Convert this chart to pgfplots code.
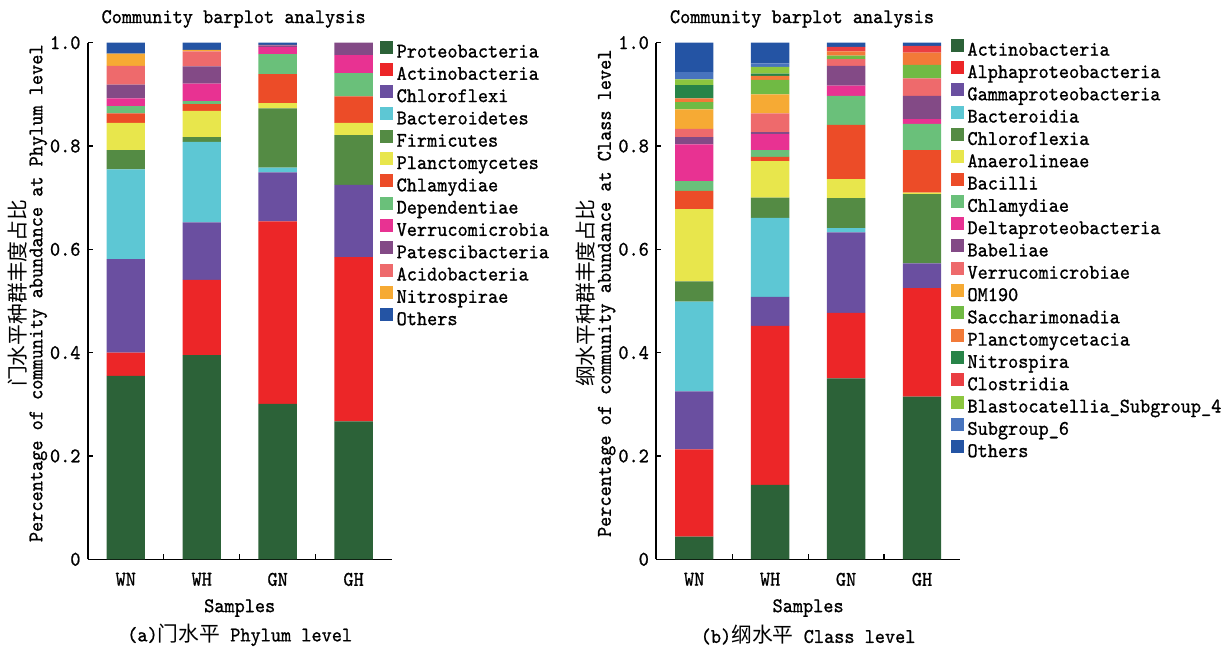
\documentclass[border=0pt]{standalone}
\usepackage{fontspec}
\usepackage{pgfplots}
\pgfplotsset{compat=1.18}
\setmonofont{lmmono10-regular.otf}[FakeStretch=0.93, FakeBold=0.9]
\newfontfamily\cjk{Noto Sans CJK SC}
\definecolor{cDG}{HTML}{2C6238}
\definecolor{cRed}{HTML}{EC2628}
\definecolor{cPur}{HTML}{6A4FA0}
\definecolor{cCyan}{HTML}{5DC7D4}
\definecolor{cGrn}{HTML}{548B44}
\definecolor{cYel}{HTML}{E8E64C}
\definecolor{cOrR}{HTML}{EC4C28}
\definecolor{cLG}{HTML}{6AC07A}
\definecolor{cPink}{HTML}{E83292}
\definecolor{cMauve}{HTML}{834A86}
\definecolor{cSalm}{HTML}{EE6A6C}
\definecolor{cOra}{HTML}{F6AA34}
\definecolor{cBlue}{HTML}{2454A4}
\definecolor{cSac}{HTML}{70BA44}
\definecolor{cPlc}{HTML}{F27A38}
\definecolor{cNit}{HTML}{288448}
\definecolor{cClo}{HTML}{EA3E42}
\definecolor{cBla}{HTML}{8CC63F}
\definecolor{cSub}{HTML}{4874BE}
\pgfplotsset{
 common/.style={
  scale only axis, width=151.9pt, height=258.3pt,
  ybar stacked, bar width=0.505, bar shift=0pt,
  xmin=-0.5, xmax=3.5, ymin=0, ymax=1,
  axis x line=bottom, axis y line=left,
  axis line style={-, line width=0.8pt, black},
  ytick={0,0.2,0.4,0.6,0.8,1.0}, yticklabels={0,0.2,0.4,0.6,0.8,1.0},
  xtick={0.5,1.5,2.5}, xticklabels={},
  extra x ticks={0,1,2,3}, extra x tick labels={WN,WH,GN,GH},
  extra x tick style={major tick length=0pt, xticklabel style={yshift=-3.1pt}},
  tick align=inside, major tick length=2.5pt, tick style={black, line width=0.6pt},
  /pgf/number format/assume math mode=true,
  clip=false,
  every axis title shift=0pt,
  title style={at={(axis description cs:0.48,1)}, anchor=center, yshift=11.85pt},
  title={Community barplot analysis},
  xlabel={Samples},
  xlabel style={at={(axis description cs:0.5,0)}, anchor=center, yshift=-24.35pt},
  ylabel style={at={(axis description cs:-0.1986,0.515)}, anchor=center, align=center, font=\ttfamily\fontsize{10.4}{8.5}\selectfont},
  legend style={draw=none, fill=none, inner sep=0pt, anchor=north west, row sep=0.65pt,
    nodes={inner xsep=1.6pt, inner ysep=0pt, text height=7pt, text depth=2pt}},
  legend cell align=left,
  legend image code/.code={\fill[#1,draw=none] (0pt,-0.5pt) rectangle (6.5pt,6.0pt);},
  every axis plot/.append style={draw=none},
 }
}
\begin{document}
\ttfamily\fontsize{10.4}{11}\selectfont
\begin{tikzpicture}
\path[use as bounding box] (-43.9pt,-45.35pt) rectangle (567.1pt,279.65pt);
% ---------------- (a) Phylum ----------------
\begin{axis}[common, at={(0pt,0pt)}, anchor=south west,
  ylabel={{\cjk 门水平种群丰度占比}\\Percentage of community abundance at Phylum level},
  legend style={at={(rel axis cs:0.962,1.005)}}]
\addplot[fill=cDG]    coordinates {(0,0.355) (1,0.395) (2,0.301) (3,0.267)};
\addplot[fill=cRed]   coordinates {(0,0.045) (1,0.146) (2,0.353) (3,0.318)};
\addplot[fill=cPur]   coordinates {(0,0.181) (1,0.111) (2,0.095) (3,0.140)};
\addplot[fill=cCyan]  coordinates {(0,0.174) (1,0.156) (2,0.009) (3,0.000)};
\addplot[fill=cGrn]   coordinates {(0,0.037) (1,0.009) (2,0.115) (3,0.096)};
\addplot[fill=cYel]   coordinates {(0,0.053) (1,0.051) (2,0.010) (3,0.024)};
\addplot[fill=cOrR]   coordinates {(0,0.018) (1,0.013) (2,0.056) (3,0.051)};
\addplot[fill=cLG]    coordinates {(0,0.014) (1,0.006) (2,0.039) (3,0.045)};
\addplot[fill=cPink]  coordinates {(0,0.015) (1,0.034) (2,0.014) (3,0.035)};
\addplot[fill=cMauve] coordinates {(0,0.027) (1,0.033) (2,0.003) (3,0.024)};
\addplot[fill=cSalm]  coordinates {(0,0.036) (1,0.029) (2,0.001) (3,0.000)};
\addplot[fill=cOra]   coordinates {(0,0.024) (1,0.003) (2,0.000) (3,0.000)};
\addplot[fill=cBlue]  coordinates {(0,0.021) (1,0.014) (2,0.004) (3,0.000)};
\legend{Proteobacteria,Actinobacteria,Chloroflexi,Bacteroidetes,Firmicutes,Planctomycetes,Chlamydiae,Dependentiae,Verrucomicrobia,Patescibacteria,Acidobacteria,Nitrospirae,Others}
\node[anchor=center] at (axis description cs:0.5,0) [yshift=-37.85pt] {(a){\cjk 门水平} Phylum level};
\end{axis}
% ---------------- (b) Class ----------------
\begin{axis}[common, at={(284.2pt,0pt)}, anchor=south west,
  ylabel={{\cjk 纲水平种群丰度占比}\\Percentage of community abundance at Class level},
  legend style={at={(rel axis cs:0.970,1.0085)}}]
\addplot[fill=cDG]    coordinates {(0,0.044) (1,0.144) (2,0.350) (3,0.315)};
\addplot[fill=cRed]   coordinates {(0,0.169) (1,0.308) (2,0.127) (3,0.210)};
\addplot[fill=cPur]   coordinates {(0,0.112) (1,0.056) (2,0.156) (3,0.048)};
\addplot[fill=cCyan]  coordinates {(0,0.174) (1,0.153) (2,0.008) (3,0.000)};
\addplot[fill=cGrn]   coordinates {(0,0.039) (1,0.039) (2,0.058) (3,0.134)};
\addplot[fill=cYel]   coordinates {(0,0.140) (1,0.071) (2,0.037) (3,0.003)};
\addplot[fill=cOrR]   coordinates {(0,0.035) (1,0.008) (2,0.105) (3,0.082)};
\addplot[fill=cLG]    coordinates {(0,0.019) (1,0.013) (2,0.056) (3,0.051)};
\addplot[fill=cPink]  coordinates {(0,0.071) (1,0.031) (2,0.020) (3,0.009)};
\addplot[fill=cMauve] coordinates {(0,0.014) (1,0.004) (2,0.038) (3,0.045)};
\addplot[fill=cSalm]  coordinates {(0,0.016) (1,0.036) (2,0.013) (3,0.034)};
\addplot[fill=cOra]   coordinates {(0,0.038) (1,0.037) (2,0.000) (3,0.000)};
\addplot[fill=cSac]   coordinates {(0,0.014) (1,0.028) (2,0.007) (3,0.026)};
\addplot[fill=cPlc]   coordinates {(0,0.007) (1,0.008) (2,0.008) (3,0.024)};
\addplot[fill=cNit]   coordinates {(0,0.026) (1,0.004) (2,0.000) (3,0.000)};
\addplot[fill=cClo]   coordinates {(0,0.000) (1,0.000) (2,0.009) (3,0.013)};
\addplot[fill=cBla]   coordinates {(0,0.011) (1,0.013) (2,0.000) (3,0.000)};
\addplot[fill=cSub]   coordinates {(0,0.014) (1,0.007) (2,0.000) (3,0.000)};
\addplot[fill=cBlue]  coordinates {(0,0.057) (1,0.040) (2,0.008) (3,0.006)};
\legend{Actinobacteria,Alphaproteobacteria,Gammaproteobacteria,Bacteroidia,Chloroflexia,Anaerolineae,Bacilli,Chlamydiae,Deltaproteobacteria,Babeliae,Verrucomicrobiae,OM190,Saccharimonadia,Planctomycetacia,Nitrospira,Clostridia,Blastocatellia\_Subgroup\_4,Subgroup\_6,Others}
\node[anchor=center] at (axis description cs:0.5,0) [yshift=-37.85pt] {(b){\cjk 纲水平} Class level};
\end{axis}
\end{tikzpicture}
\end{document}
